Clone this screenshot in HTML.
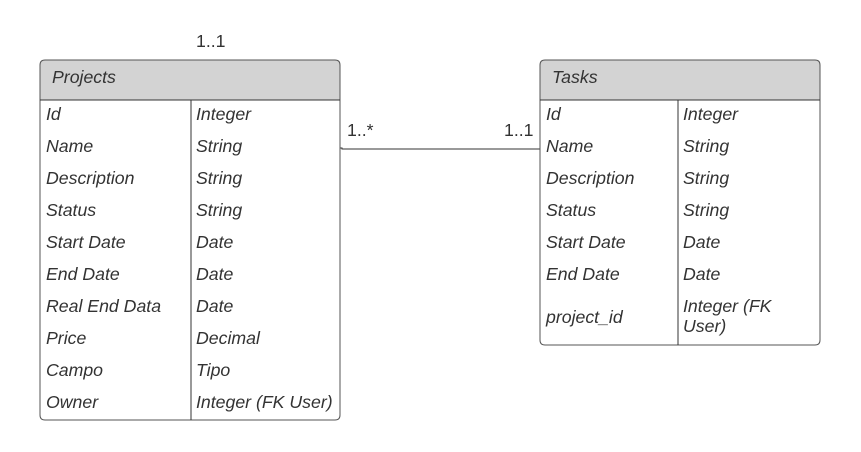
<!DOCTYPE html>
<html><head><meta charset="utf-8"><style>
html,body{margin:0;padding:0;background:#fff;}
svg text{font-family:"Liberation Sans",sans-serif;font-size:17.7px;fill:#333;}
.i{font-style:italic;}
</style></head><body>
<svg width="861" height="447" viewBox="0 0 861 447">
<text x="196" y="47">1..1</text>
<text x="347" y="136">1..*</text>
<text x="504" y="136">1..1</text>
<path d="M340 148 L342 148 L342 149 L540 149" fill="none" stroke="#333" stroke-width="1"/>
<path d="M40 100 V65 Q40 60 45 60 H335 Q340 60 340 65 V100 Z" fill="#d3d3d3" stroke="#555"/>
<path d="M40 100 V415 Q40 420 45 420 H335 Q340 420 340 415 V100" fill="#fff" stroke="#555"/>
<line x1="40" y1="100" x2="340" y2="100" stroke="#333"/>
<line x1="191" y1="100" x2="191" y2="420" stroke="#333"/>
<text class="i" x="52" y="83">Projects</text>
<text class="i" x="46" y="120">Id</text><text class="i" x="196" y="120">Integer</text>
<text class="i" x="46" y="152">Name</text><text class="i" x="196" y="152">String</text>
<text class="i" x="46" y="184">Description</text><text class="i" x="196" y="184">String</text>
<text class="i" x="46" y="216">Status</text><text class="i" x="196" y="216">String</text>
<text class="i" x="46" y="248">Start Date</text><text class="i" x="196" y="248">Date</text>
<text class="i" x="46" y="280">End Date</text><text class="i" x="196" y="280">Date</text>
<text class="i" x="46" y="312">Real End Data</text><text class="i" x="196" y="312">Date</text>
<text class="i" x="46" y="344">Price</text><text class="i" x="196" y="344">Decimal</text>
<text class="i" x="46" y="376">Campo</text><text class="i" x="196" y="376">Tipo</text>
<text class="i" x="46" y="408">Owner</text><text class="i" x="196" y="408">Integer (FK User)</text>
<path d="M540 100 V65 Q540 60 545 60 H815 Q820 60 820 65 V100 Z" fill="#d3d3d3" stroke="#555"/>
<path d="M540 100 V340 Q540 345 545 345 H815 Q820 345 820 340 V100" fill="#fff" stroke="#555"/>
<line x1="540" y1="100" x2="820" y2="100" stroke="#333"/>
<line x1="678" y1="100" x2="678" y2="345" stroke="#333"/>
<text class="i" x="552" y="83">Tasks</text>
<text class="i" x="546" y="120">Id</text><text class="i" x="683" y="120">Integer</text>
<text class="i" x="546" y="152">Name</text><text class="i" x="683" y="152">String</text>
<text class="i" x="546" y="184">Description</text><text class="i" x="683" y="184">String</text>
<text class="i" x="546" y="216">Status</text><text class="i" x="683" y="216">String</text>
<text class="i" x="546" y="248">Start Date</text><text class="i" x="683" y="248">Date</text>
<text class="i" x="546" y="280">End Date</text><text class="i" x="683" y="280">Date</text>
<text class="i" x="546" y="323">project_id</text>
<text class="i" x="683" y="312">Integer (FK</text><text class="i" x="683" y="332">User)</text>
</svg>
</body></html>
